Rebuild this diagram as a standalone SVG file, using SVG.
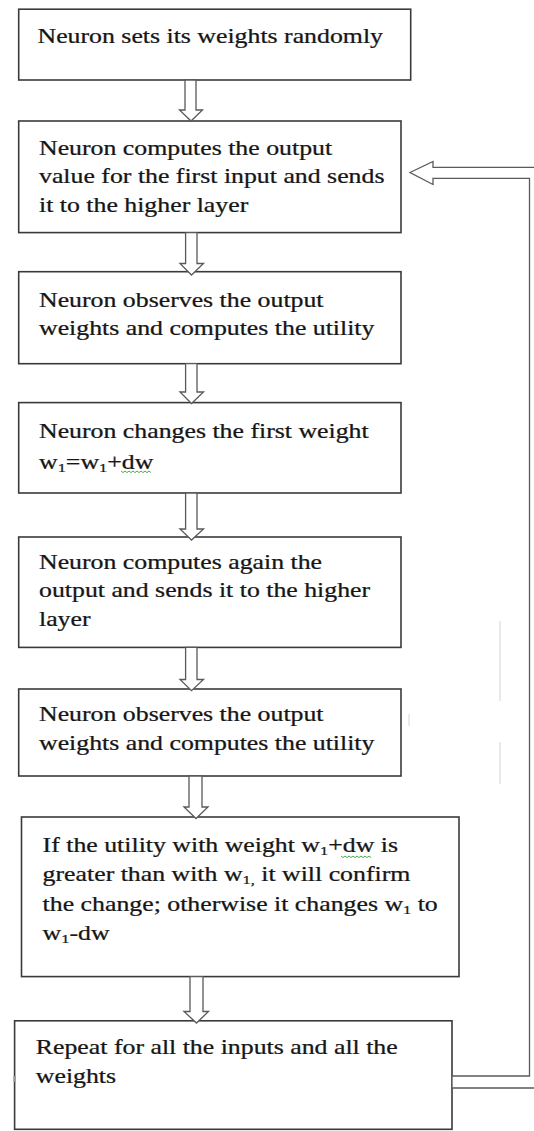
<svg xmlns="http://www.w3.org/2000/svg" width="534" height="1131" viewBox="0 0 534 1131">
<style>
.box{fill:#fff;stroke:#3a3a3a;stroke-width:1.6}
.arr{fill:#fff;stroke:#5a5a5a;stroke-width:1.3;stroke-linejoin:miter}
.t{font-family:"Liberation Serif","Times New Roman",serif;font-size:20.5px;fill:#161616;stroke:#161616;stroke-width:0.25}
.sub{font-size:13px}
.wavy{fill:none;stroke:#3aa03a;stroke-width:0.9}
.faint{stroke:#dcdcdc;stroke-width:1.2;fill:none}
</style>
<rect width="534" height="1131" fill="#fff"/>

<g id="artifacts">
<line class="faint" x1="500" y1="621" x2="500" y2="701"/>
<line class="faint" x1="500" y1="742" x2="500" y2="784"/>
<line class="faint" x1="409" y1="714" x2="409" y2="726"/>
</g>

<g id="node1">
<rect class="box" x="18.7" y="9.2" width="392" height="70.8"/>
<text class="t" transform="translate(37.5,42.6) scale(1.26,1)"><tspan x="0" y="0">Neuron sets its weights randomly</tspan></text>
</g>

<g id="node2">
<rect class="box" x="18.7" y="121" width="382.3" height="111.6"/>
<text class="t" transform="translate(39,155) scale(1.26,1)"><tspan x="0" y="0">Neuron computes the output</tspan><tspan x="0" y="28.5">value for the first input and sends</tspan><tspan x="0" y="57">it to the higher layer</tspan></text>
</g>

<g id="node3">
<rect class="box" x="18.7" y="271.7" width="382.3" height="92"/>
<text class="t" transform="translate(39,307) scale(1.26,1)"><tspan x="0" y="0">Neuron observes the output</tspan><tspan x="0" y="28">weights and computes the utility</tspan></text>
</g>

<g id="node4">
<rect class="box" x="18.7" y="402.6" width="382.3" height="90.4"/>
<text class="t" transform="translate(39,438) scale(1.26,1)"><tspan x="0" y="0">Neuron changes the first weight</tspan><tspan x="0" y="31">w<tspan class="sub" dy="3">1</tspan><tspan dy="-3">=w</tspan><tspan class="sub" dy="3">1</tspan><tspan dy="-3">+dw</tspan></tspan></text>
<path class="wavy" d="M121,471 l2,1.6 l2,-1.6 l2,1.6 l2,-1.6 l2,1.6 l2,-1.6 l2,1.6 l2,-1.6 l2,1.6 l2,-1.6 l2,1.6 l2,-1.6 l2,1.6 l2,-1.6 l2,1.6"/>
</g>

<g id="node5">
<rect class="box" x="18.7" y="537" width="382.3" height="110.4"/>
<text class="t" transform="translate(39,569) scale(1.26,1)"><tspan x="0" y="0">Neuron computes again the</tspan><tspan x="0" y="28.5">output and sends it to the higher</tspan><tspan x="0" y="57">layer</tspan></text>
</g>

<g id="node6">
<rect class="box" x="18.7" y="689" width="382.3" height="87"/>
<text class="t" transform="translate(39,721) scale(1.26,1)"><tspan x="0" y="0">Neuron observes the output</tspan><tspan x="0" y="29">weights and computes the utility</tspan></text>
</g>

<g id="node7">
<rect class="box" x="21.5" y="817" width="437.5" height="159.6"/>
<text class="t" transform="translate(42.6,852) scale(1.26,1)"><tspan x="0" y="0">If the utility with weight w<tspan class="sub" dy="3">1</tspan><tspan dy="-3">+dw is</tspan></tspan><tspan x="0" y="29.5">greater than with w<tspan class="sub" dy="3">1,</tspan><tspan dy="-3"> it will confirm</tspan></tspan><tspan x="0" y="59">the change; otherwise it changes w<tspan class="sub" dy="3">1</tspan><tspan dy="-3"> to</tspan></tspan><tspan x="0" y="88">w<tspan class="sub" dy="3">1</tspan><tspan dy="-3">-dw</tspan></tspan></text>
<path class="wavy" d="M341,856 l2,1.6 l2,-1.6 l2,1.6 l2,-1.6 l2,1.6 l2,-1.6 l2,1.6 l2,-1.6 l2,1.6 l2,-1.6 l2,1.6 l2,-1.6 l2,1.6 l2,-1.6 l2,1.6"/>
</g>

<g id="node8">
<rect class="box" x="14.6" y="1020.8" width="437.4" height="108.5"/>
<text class="t" transform="translate(35.8,1054) scale(1.26,1)"><tspan x="0" y="0">Repeat for all the inputs and all the</tspan><tspan x="0" y="29">weights</tspan></text>
<line x1="14.6" y1="1076" x2="14.6" y2="1082" stroke="#999" stroke-width="2.5"/>
</g>

<g id="connectors">
<polygon class="arr" points="185,80 196,80 196,110 202.5,110 191,121 179.5,110 185,110"/>
<polygon class="arr" points="185.6,232.6 197,232.6 197,263.5 203.5,263.5 191.5,275 180,263.5 185.6,263.5"/>
<polygon class="arr" points="185.6,363.7 197,363.7 197,392 203.5,392 191.5,403.5 180,392 185.6,392"/>
<polygon class="arr" points="185.6,493 197,493 197,529 203.5,529 191.5,540 180,529 185.6,529"/>
<polygon class="arr" points="185.6,647.4 197,647.4 197,679.5 203.5,679.5 191.5,690.7 180,679.5 185.6,679.5"/>
<polygon class="arr" points="189,776 202,776 202,807 208,807 196,818.5 184,807 189,807"/>
<polygon class="arr" points="190,976.6 203,976.6 203,1011.5 208.5,1011.5 196.5,1023 184,1011.5 190,1011.5"/>
<polygon class="arr" points="410,172.5 433,161.5 433,167.3 540,167.3 540,1088 452,1088 452,1076 529.5,1076 529.5,178.3 433,178.3 433,184.5"/>
</g>
</svg>
